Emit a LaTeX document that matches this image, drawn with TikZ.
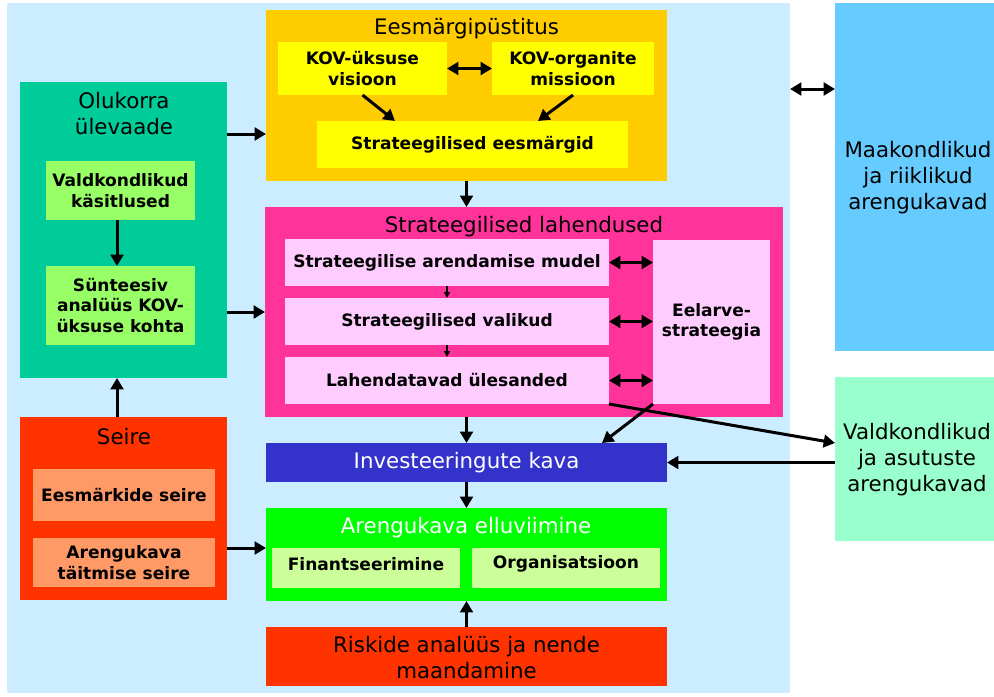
\documentclass[tikz,border=0pt]{standalone}
\usepackage{fontspec}
\setmainfont{DejaVu Sans}
\usetikzlibrary{fit,calc,arrows.meta}
\definecolor{bgblue}{HTML}{CCECFF}
\definecolor{maak}{HTML}{66CCFF}
\definecolor{mint}{HTML}{99FFCC}
\definecolor{orangeY}{HTML}{FFCC00}
\definecolor{yel}{HTML}{FFFF00}
\definecolor{pinkD}{HTML}{FF3399}
\definecolor{pinkL}{HTML}{FFCCFF}
\definecolor{invblue}{HTML}{3333CC}
\definecolor{greenB}{HTML}{00FF00}
\definecolor{greenL}{HTML}{CCFF99}
\definecolor{redO}{HTML}{FF3300}
\definecolor{teal}{HTML}{00CC99}
\definecolor{greenM}{HTML}{99FF66}
\definecolor{salmon}{HTML}{FF9966}
\begin{document}
\begin{tikzpicture}[x=0.75pt,y=-0.75pt,
 box/.style={inner sep=0pt, outer sep=0pt, draw=none},
 bt/.style={font=\fontsize{12.8}{15.4}\selectfont\bfseries, align=center, inner sep=0pt},
 tt/.style={font=\fontsize{16}{19.5}\selectfont, align=center, inner sep=0pt},
 arr/.style={line width=2.25pt, -{Triangle[width=9.5pt,length=8.5pt]}},
 darr/.style={line width=2.25pt, {Triangle[width=9.5pt,length=8.5pt]}-{Triangle[width=9.5pt,length=8.5pt]}},
 sarr/.style={line width=1.1pt, -{Triangle[width=4.5pt,length=4.5pt]}},
]
\useasboundingbox (0,0) rectangle (994,696);
\fill[white] (0,0) rectangle (994,696);
% background
\node[box, fill=bgblue, fit={(7,3) (790,693)}] (bg) {};
\node[box, fill=maak, fit={(835,3) (1000,351)}] (maak) {};
\node[tt] (maakT) at (918,178) {Maakondlikud\\ja riiklikud\\arengukavad};
\node[box, fill=mint, fit={(835,377) (1000,541)}] (va) {};
\node[tt] (vaT) at (917,460) {Valdkondlikud\\ja asutuste\\arengukavad};
% Eesmargipustitus
\node[box, fill=orangeY, fit={(266,10) (667,181)}] (ees) {};
\node[tt] (eesT) at ($(ees.north)+(0,19)$) {Eesmärgipüstitus};
\node[box, fill=yel, fit={(278,42) (447,95)}] (vis) {};
\node[bt] at (vis.center) {KOV-üksuse\\visioon};
\node[box, fill=yel, fit={(492,42) (654,95)}] (mis) {};
\node[bt] at (mis.center) {KOV-organite\\missioon};
\node[box, fill=yel, fit={(317,121) (628,168)}] (eg) {};
\node[bt] at (eg.center) {Strateegilised eesmärgid};
% Strateegilised lahendused
\node[box, fill=pinkD, fit={(265,207) (783,417)}] (sl) {};
\node[tt] (slT) at (524,227) {Strateegilised lahendused};
\node[box, fill=pinkL, fit={(285,239) (609,286)}] (mud) {};
\node[bt] at (mud.center) {Strateegilise arendamise mudel};
\node[box, fill=pinkL, fit={(285,298) (609,345)}] (val) {};
\node[bt] at (val.center) {Strateegilised valikud};
\node[box, fill=pinkL, fit={(285,357) (609,404)}] (ule) {};
\node[bt] at (ule.center) {Lahendatavad ülesanded};
\node[box, fill=pinkL, fit={(653,240) (770,404)}] (eel) {};
\node[bt] at (eel.center) {Eelarve-\\strateegia};
% Investeeringute kava
\node[box, fill=invblue, fit={(266,443) (667,482)}] (inv) {};
\node[tt, text=white] at (inv.center) {Investeeringute kava};
% Arengukava elluviimine
\node[box, fill=greenB, fit={(266,508) (667,601)}] (ar) {};
\node[tt, text=white] (arT) at (466,528) {Arengukava elluviimine};
\node[box, fill=greenL, fit={(272,548) (460,588)}] (fin) {};
\node[bt] at ($(fin.center)+(0,-4)$) {Finantseerimine};
\node[box, fill=greenL, fit={(472,548) (660,588)}] (org) {};
\node[bt] at ($(org.center)+(0,-4)$) {Organisatsioon};
% Riskide
\node[box, fill=redO, fit={(266,627) (667,686)}] (ris) {};
\node[tt] at ($(ris.center)+(0,1)$) {Riskide analüüs ja nende\\maandamine};
% Olukorra ulevaade
\node[box, fill=teal, fit={(20,82) (227,378)}] (ol) {};
\node[tt] (olT) at (124,114) {Olukorra\\ülevaade};
\node[box, fill=greenM, fit={(46,161) (195,220)}] (vk) {};
\node[bt] at (vk.center) {Valdkondlikud\\käsitlused};
\node[box, fill=greenM, fit={(46,266) (195,345)}] (sy) {};
\node[bt] at (sy.center) {Sünteesiv\\analüüs KOV-\\üksuse kohta};
% Seire
\node[box, fill=redO, fit={(20,417) (227,600)}] (se) {};
\node[tt] (seT) at (124,437) {Seire};
\node[box, fill=salmon, fit={(33,469) (215,521)}] (es) {};
\node[bt] at (es.center) {Eesmärkide seire};
\node[box, fill=salmon, fit={(33,538) (215,587)}] (ts) {};
\node[bt] at (ts.center) {Arengukava\\täitmise seire};
% arrows
\draw[darr] (vis.east) -- (mis.west);
\draw[arr] (vis.south) -- ($(eg.north west)+(78,0)$);
\draw[arr] (mis.south) -- ($(eg.north east)+(-90,0)$);
\draw[arr] (ees.south) -- (ees.south |- sl.north);
\draw[sarr] (mud.south) -- (val.north);
\draw[sarr] (val.south) -- (ule.north);
\draw[darr] (mud.east) -- (mud.east -| eel.west);
\draw[darr] (val.east) -- (val.east -| eel.west);
\draw[darr] (ule.east) -- (ule.east -| eel.west);
\draw[arr] (inv.north |- sl.south) -- (inv.north);
\draw[arr] (eel.south west) -- ($(inv.north east)+(-65,0)$);
\draw[arr] (ule.south east) -- ($(va.north west)+(0,66)$);
\draw[arr] (va.west |- inv.east) -- (inv.east);
\draw[arr] (inv.south) -- (ar.north);
\draw[arr] (ris.north) -- (ar.south);
\draw[darr] ($(bg.north east)+(0,86)$) -- ($(maak.north west)+(0,86)$);
\coordinate (o1) at ($(ol.north east)+(0,52)$);
\draw[arr] (o1) -- (o1 -| ees.west);
\coordinate (o2) at ($(ol.north east)+(0,230)$);
\draw[arr] (o2) -- (o2 -| sl.west);
\coordinate (s1) at ($(se.north east)+(0,131)$);
\draw[arr] (s1) -- (s1 -| ar.west);
\coordinate (s2) at ($(se.north west)+(97,0)$);
\draw[arr] (s2) -- (s2 |- ol.south);
\coordinate (v1) at ($(vk.south west)+(71,0)$);
\draw[arr] (v1) -- (v1 |- sy.north);
\end{tikzpicture}
\end{document}
